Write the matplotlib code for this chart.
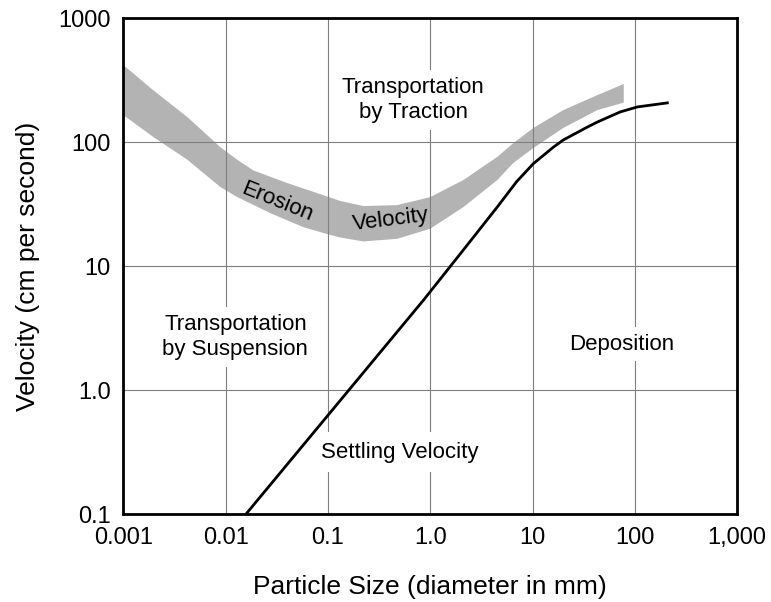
import matplotlib.pyplot as plt

plt.rcParams['font.family'] = ['Liberation Sans', 'DejaVu Sans']

# erosion velocity band, cm/s
upper_size = [0.001, 0.00196, 0.00423, 0.00887, 0.013, 0.0187, 0.0401, 0.0843, 0.132, 0.222,
              0.476, 1.0, 2.11, 4.53, 6.49, 10.2, 20, 43, 78]
upper_vel = [418, 262, 159, 91, 72, 59, 46.7, 38, 33.5, 30.5,
             31, 36, 49.4, 76, 98, 130, 181, 239, 294]
lower_size = [0.001, 0.00196, 0.00423, 0.00887, 0.013, 0.0274, 0.0575, 0.101, 0.132, 0.222,
              0.476, 1.0, 2.11, 4.53, 6.49, 10.2, 20, 43, 78]
lower_vel = [165, 110, 72, 43.4, 36, 26.7, 20.6, 18, 17, 15.8,
             16.6, 20, 29.9, 49.4, 67.8, 89.5, 130, 181, 208]

# settling velocity curve
settle_size = [0.0158, 0.857, 2.11, 4.53, 7.0, 10.2, 16, 20, 34.3, 43, 72, 106, 208]
settle_vel = [0.1, 5.3, 13.5, 30, 48, 67, 91, 104, 132, 145, 175, 192, 207]

xticks = [0.001, 0.01, 0.1, 1, 10, 100, 1000]
xticklabels = ['0.001', '0.01', '0.1', '1.0', '10', '100', '1,000']
yticks = [0.1, 1, 10, 100, 1000]
yticklabels = ['0.1', '1.0', '10', '100', '1000']

fig = plt.figure(figsize=(7.71, 6.02), dpi=100)
ax = fig.add_axes([0.16, 0.146, 0.796, 0.824])

ax.fill(upper_size + lower_size[::-1], upper_vel + lower_vel[::-1],
        color='#b3b3b3', lw=0, zorder=1)
ax.plot(settle_size, settle_vel, color='black', lw=2.0, zorder=6)

ax.set_xscale('log')
ax.set_yscale('log')
ax.set_xlim(0.001, 1000)
ax.set_ylim(0.1, 1000)
ax.set_xticks(xticks)
ax.set_xticklabels(xticklabels)
ax.set_yticks(yticks)
ax.set_yticklabels(yticklabels)
ax.minorticks_off()
ax.tick_params(length=0, labelsize=17, pad=9)
ax.grid(True, color='#7f7f7f', lw=0.8)
ax.set_axisbelow(False)
for s in ax.spines.values():
    s.set_linewidth(2)
    s.set_zorder(7)

ax.set_xlabel('Particle Size (diameter in mm)', fontsize=19, labelpad=19)
ax.set_ylabel('Velocity (cm per second)', fontsize=19, labelpad=13)

box = dict(facecolor='white', edgecolor='none', pad=5)
ax.text(0.68, 218, 'Transportation\nby Traction', fontsize=16, ha='center', va='center',
        linespacing=1.25, bbox=box, zorder=5)
ax.text(0.01245, 2.67, 'Transportation\nby Suspension', fontsize=16, ha='center', va='center',
        linespacing=1.25, bbox=box, zorder=5)
ax.text(73.8, 2.35, 'Deposition', fontsize=16, ha='center', va='center', bbox=box, zorder=5)
ax.text(0.499, 0.316, 'Settling Velocity', fontsize=16, ha='center', va='center',
        bbox=dict(facecolor='white', edgecolor='none', pad=7), zorder=5)
ax.text(0.032, 33, 'Erosion', fontsize=16, ha='center', va='center', rotation=-22, zorder=5)
ax.text(0.41, 23.5, 'Velocity', fontsize=16, ha='center', va='center', rotation=7, zorder=5)

plt.savefig('out.png')
plt.close()
